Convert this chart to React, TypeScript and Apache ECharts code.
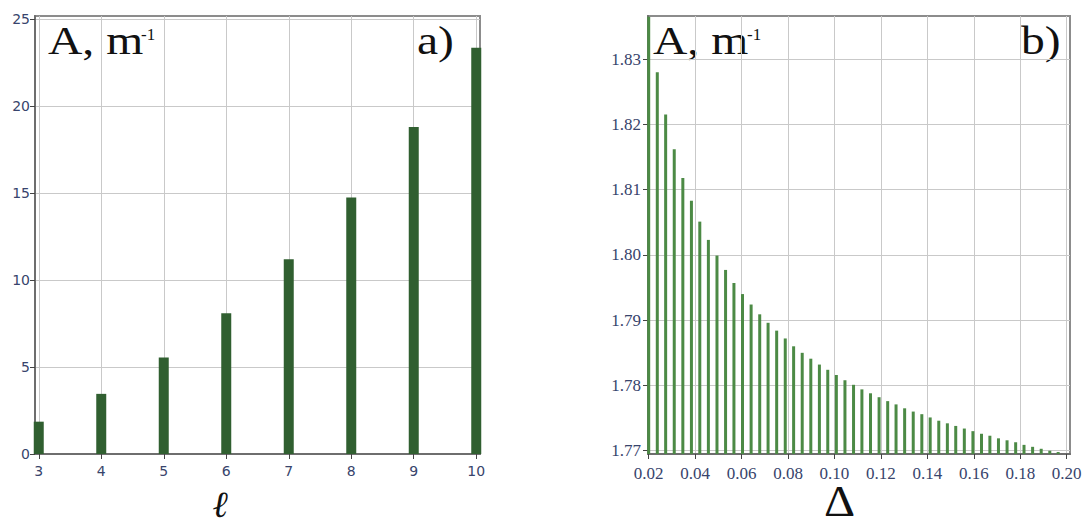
import React, { useEffect, useRef } from "react";
import * as echarts from "echarts";

// ---- data ----
const ellValues = [3, 4, 5, 6, 7, 8, 9, 10];
const aByEll = [1.86, 3.46, 5.55, 8.1, 11.21, 14.76, 18.82, 23.37];

const deltaValues = [
  0.02, 0.0237, 0.0273, 0.031, 0.0347, 0.0384, 0.042, 0.0457, 0.0494, 0.0531,
  0.0567, 0.0604, 0.0641, 0.0678, 0.0714, 0.0751, 0.0788, 0.0824, 0.0861, 0.0898,
  0.0935, 0.0971, 0.1008, 0.1045, 0.1082, 0.1118, 0.1155, 0.1192, 0.1229, 0.1265,
  0.1302, 0.1339, 0.1376, 0.1412, 0.1449, 0.1486, 0.1522, 0.1559, 0.1596, 0.1633,
  0.1669, 0.1706, 0.1743, 0.178, 0.1816, 0.1853, 0.189, 0.1927, 0.1963, 0.2,
];
const aByDelta = [
  1.8365, 1.828, 1.8215, 1.8162, 1.8118, 1.8083, 1.8051, 1.8023, 1.7999, 1.7977,
  1.7957, 1.794, 1.7924, 1.7909, 1.7896, 1.7884, 1.7872, 1.786, 1.785, 1.7841,
  1.7832, 1.7824, 1.7816, 1.7808, 1.7801, 1.7794, 1.7788, 1.7782, 1.7776, 1.7771,
  1.7765, 1.776, 1.7756, 1.7751, 1.7746, 1.7742, 1.7738, 1.7734, 1.773, 1.7726,
  1.7723, 1.7719, 1.7716, 1.7713, 1.7709, 1.7706, 1.7703, 1.77, 1.7698, 1.7695,
];

const leftXTicks = [3, 4, 5, 6, 7, 8, 9, 10];
const leftYTicks = [0, 5, 10, 15, 20, 25];
const rightXTicks = [0.02, 0.04, 0.06, 0.08, 0.1, 0.12, 0.14, 0.16, 0.18, 0.2];
const rightYTicks = [1.77, 1.78, 1.79, 1.8, 1.81, 1.82, 1.83];

const labelColor = "#38446c";
const gridLine = "#c9c9c9";
const axisCol = "#6e6e6e";

export default function App() {
  const ref = useRef<HTMLDivElement>(null);
  useEffect(() => {
    if (!ref.current) return;
    const chart = echarts.init(ref.current, undefined, { renderer: "svg" });
    const common = (ticks: number[], font: string, size: number, margin: number, digits: number) => ({
      axisLine: { show: true, onZero: false, lineStyle: { color: axisCol, width: 2 } },
      axisTick: { show: true, length: 5, customValues: ticks, lineStyle: { color: "#444", width: 1 } },
      axisLabel: {
        show: true,
        customValues: ticks,
        color: labelColor,
        fontFamily: font,
        fontSize: size,
        margin,
        formatter: (v: number) => `{s|${v.toFixed(digits)}}`,
        rich: { s: { fontFamily: font, fontSize: size, color: labelColor } },
      },
      splitLine: { show: true, lineStyle: { color: gridLine, width: 1 } },
    });
    const serifTitle = "Liberation Serif, DejaVu Serif, serif";
    const option: any = {
      animation: false,
      backgroundColor: "#ffffff",
      grid: [
        { left: 35, right: 605, top: 16, bottom: 70, show: true, borderColor: "#8c8c8c", borderWidth: 2, backgroundColor: "transparent" },
        { left: 648, right: 15, top: 16, bottom: 70, show: true, borderColor: "#8c8c8c", borderWidth: 2, backgroundColor: "transparent" },
      ],
      xAxis: [
        { gridIndex: 0, type: "value", min: 2.94, max: 10.06, ...common(leftXTicks, "DejaVu Sans", 14, 10, 0) },
        { gridIndex: 1, type: "value", min: 0.0197, max: 0.2014, ...common(rightXTicks, "Liberation Serif", 17, 11, 2) },
      ],
      yAxis: [
        { gridIndex: 0, type: "value", min: 0, max: 25.2, ...common(leftYTicks, "DejaVu Sans", 14, 5, 0) },
        { gridIndex: 1, type: "value", min: 1.7695, max: 1.8366, ...common(rightYTicks, "Liberation Serif", 17, 7, 2) },
      ],
      series: [
        {
          type: "bar",
          xAxisIndex: 0,
          yAxisIndex: 0,
          barWidth: 10,
          itemStyle: { color: "#305f30" },
          data: ellValues.map((x, i) => [x, aByEll[i]]),
        },
        {
          type: "bar",
          xAxisIndex: 1,
          yAxisIndex: 1,
          barWidth: 3,
          itemStyle: { color: "#4c8a45" },
          data: deltaValues.map((x, i) => [x, aByDelta[i]]),
        },
      ],
      graphic: [
        { type: "text", x: 48, y: 21, scaleX: 1.22, style: { text: "A, m", font: `39px ${serifTitle}`, fill: "#111" } },
        { type: "text", x: 141, y: 26, style: { text: "-1", font: `17px ${serifTitle}`, fill: "#111" } },
        { type: "text", x: 417, y: 21, scaleX: 1.22, style: { text: "a)", font: `39px ${serifTitle}`, fill: "#111" } },
        { type: "text", x: 653, y: 21, scaleX: 1.22, style: { text: "A, m", font: `39px ${serifTitle}`, fill: "#111" } },
        { type: "text", x: 747, y: 26, style: { text: "-1", font: `17px ${serifTitle}`, fill: "#111" } },
        { type: "text", x: 1021, y: 21, scaleX: 1.22, style: { text: "b)", font: `39px ${serifTitle}`, fill: "#111" } },
        { type: "text", x: 213, y: 522, style: { text: "ℓ", font: `italic bold 37px DejaVu Serif, serif`, fill: "#111", verticalAlign: "bottom" } },
        { type: "text", x: 824, y: 523, scaleX: 1.1, style: { text: "Δ", font: `44px ${serifTitle}`, fill: "#111", verticalAlign: "bottom" } },
      ],
    };
    chart.setOption(option);
    return () => chart.dispose();
  }, []);
  return (
    <div
      ref={ref}
      style={{ position: "fixed", left: 0, top: 0, width: 1085, height: 524, background: "#fff" }}
    />
  );
}
